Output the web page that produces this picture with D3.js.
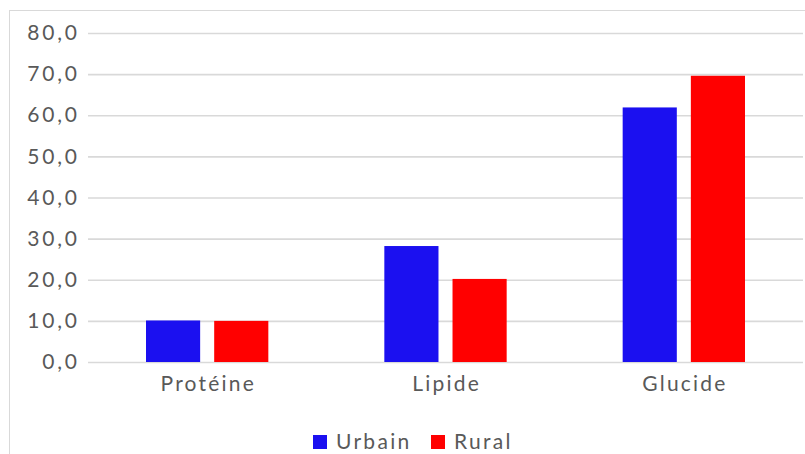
<!DOCTYPE html>
<html>
<head>
<meta charset="utf-8">
<script src="https://cdn.jsdelivr.net/npm/d3@7"></script>
<style>
  html, body { margin: 0; padding: 0; background: #fff; }
  svg { display: block; }
  text { font-family: Lato, "Open Sans", sans-serif; fill: #595959; }
</style>
</head>
<body>
<svg id="chart" width="805" height="454"></svg>
<script>
// Macronutrient intake by setting (%)
const categories = ["Protéine", "Lipide", "Glucide"];
const seriesNames = ["Urbain", "Rural"];
const urbain = [10.1, 28.2, 61.9];
const rural = [10.0, 20.2, 69.6];
const yTicks = [0, 10, 20, 30, 40, 50, 60, 70, 80];
const colors = ["#1b10f0", "#ff0000"];

const values = [urbain, rural];
const rows = categories.map((c, i) => ({
  category: c,
  items: seriesNames.map((s, j) => ({ series: s, value: values[j][i] }))
}));

const svg = d3.select("#chart");
const W = 805, H = 454;
const margin = { left: 88, right: 2, top: 33, bottom: 92 };

// chart frame
svg.append("rect")
  .attr("x", 9.5).attr("y", 10.5)
  .attr("width", W).attr("height", H)
  .attr("fill", "none").attr("stroke", "#d9d9d9").attr("stroke-width", 1);

const x0 = d3.scaleBand()
  .domain(categories)
  .range([margin.left, W - margin.right])
  .paddingInner(0).paddingOuter(0);

const groupPad = 58;
const x1 = d3.scaleBand()
  .domain(seriesNames)
  .range([groupPad, x0.bandwidth() - groupPad])
  .paddingInner(14 / 68).paddingOuter(0);

const y = d3.scaleLinear().domain([0, 80]).range([H - margin.bottom, margin.top]);

const locale = d3.formatLocale({ decimal: ",", thousands: " ", grouping: [3], currency: ["", " €"] });
const fmt = locale.format(".1f");

// gridlines and value labels
const yAxis = d3.axisLeft(y).tickValues(yTicks).tickFormat(fmt)
  .tickSize(-(W - margin.right - margin.left)).tickPadding(11);
const gy = svg.append("g").attr("transform", `translate(${margin.left},0)`).call(yAxis);
gy.select(".domain").remove();
gy.selectAll(".tick line").attr("stroke", "#d9d9d9").attr("stroke-width", 1.6);
gy.selectAll(".tick text")
  .style("font-size", "21px")
  .style("letter-spacing", "2.8px")
  .attr("fill", "#595959")
  .attr("dx", "2.8px");

// bars
const groups = svg.append("g").selectAll("g")
  .data(rows).join("g")
  .attr("transform", d => `translate(${x0(d.category)},0)`);

groups.selectAll("rect")
  .data(d => d.items).join("rect")
  .attr("x", d => x1(d.series))
  .attr("width", x1.bandwidth())
  .attr("y", d => y(d.value))
  .attr("height", d => y(0) - y(d.value))
  .attr("fill", (d, i) => colors[i]);

// category labels
const xAxis = d3.axisBottom(x0).tickSize(0).tickPadding(14);
const gx = svg.append("g").attr("transform", `translate(0,${y(0)})`).call(xAxis);
gx.select(".domain").remove();
gx.selectAll(".tick text")
  .style("font-size", "21px")
  .style("letter-spacing", "2.2px")
  .attr("fill", "#595959")
  .attr("dx", "1.1px");

// legend
const legend = svg.append("g").attr("transform", "translate(313,435)");
const legendX = [0, 118];
const li = legend.selectAll("g").data(seriesNames).join("g")
  .attr("transform", (d, i) => `translate(${legendX[i]},0)`);
li.append("rect").attr("width", 14).attr("height", 14).attr("fill", (d, i) => colors[i]);
li.append("text")
  .attr("x", 23).attr("y", 7).attr("dy", "0.35em")
  .style("font-size", "21px")
  .style("letter-spacing", "2.3px")
  .text(d => d);
</script>
</body>
</html>
